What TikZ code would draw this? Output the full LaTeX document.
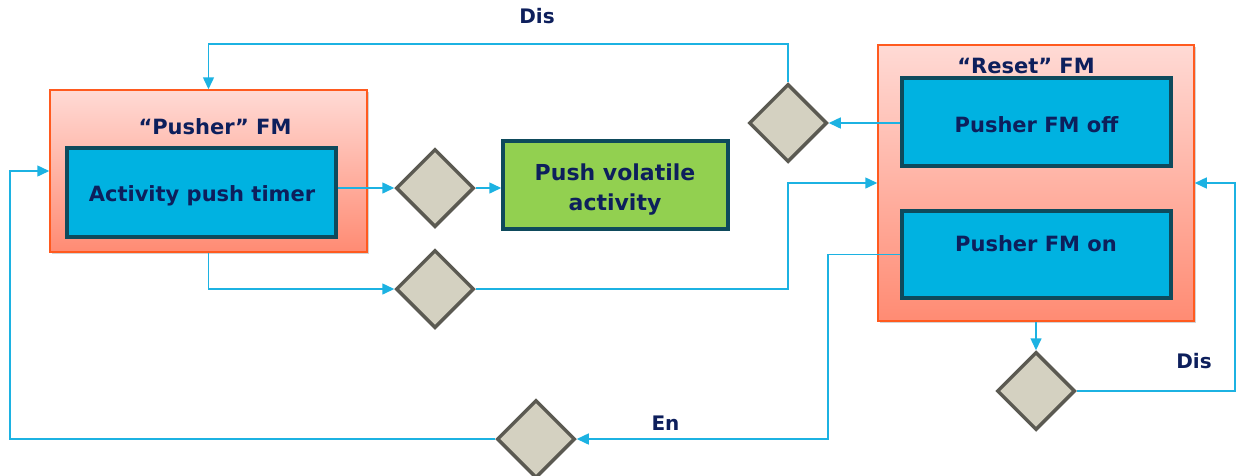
\documentclass[tikz,border=0pt]{standalone}
\usepackage{fontspec}
\setmainfont{DejaVu Sans}
\usetikzlibrary{shapes.geometric,arrows.meta,shadows}
\definecolor{navy}{HTML}{0D1F5C}
\definecolor{conncol}{HTML}{1CB2E2}
\definecolor{outerborder}{HTML}{FF5A1F}
\definecolor{outertop}{HTML}{FFDAD5}
\definecolor{outerbot}{HTML}{FF8B73}
\definecolor{innerfill}{HTML}{00B2E1}
\definecolor{innerborder}{HTML}{0E4A5C}
\definecolor{greenfill}{HTML}{92D050}
\definecolor{dfill}{HTML}{D4D1C1}
\definecolor{dborder}{HTML}{5B5A52}
\tikzset{
  outerbox/.style={draw=outerborder, line width=1.5pt, top color=outertop, bottom color=outerbot,
    inner sep=0pt, drop shadow={shadow xshift=2pt, shadow yshift=-2pt, opacity=0.35, fill=gray}},
  innerbox/.style={draw=innerborder, line width=3.5pt, fill=innerfill, inner sep=0pt,
    minimum width=269pt},
  greenbox/.style={draw=innerborder, line width=3.5pt, fill=greenfill, inner sep=0pt,
    minimum width=225pt, minimum height=88pt},
  dia/.style={diamond, draw=dborder, line width=3.5pt, fill=dfill, inner sep=0pt,
    minimum width=78pt, minimum height=78pt},
  lbl/.style={text=navy, font=\bfseries\fontsize{21}{30}\selectfont, inner sep=0pt, anchor=base},
  small/.style={text=navy, font=\bfseries\fontsize{20}{24}\selectfont, inner sep=0pt, anchor=base},
  conn/.style={draw=conncol, line width=1.5pt, -{Triangle[length=12pt,width=11pt]}}
}
\begin{document}
\begin{tikzpicture}[x=1pt,y=-1pt]
\useasboundingbox (0,0) rectangle (1238,475);
% outer boxes
\node[outerbox, minimum width=317pt, minimum height=162pt] (pusher) at (208.5,171) {};
\node[outerbox, minimum width=316pt, minimum height=276pt] (reset) at (1036,183) {};
% inner boxes
\node[innerbox, minimum height=89pt] (timer) at (201.5,192.5) {};
\node[innerbox, minimum height=88pt] (off) at (1036.5,122) {};
\node[innerbox, minimum height=87pt] (on) at (1036.5,254.5) {};
\node[greenbox] (green) at (615.5,185) {};
% titles and box texts
\node[lbl] (ptitle) at (215,134) {“Pusher” FM};
\node[lbl] (rtitle) at (1026,73) {“Reset” FM};
\node[lbl] (timertext) at (202,201) {Activity push timer};
\node[lbl] (offtext) at (1036.5,132) {Pusher FM off};
\node[lbl] (ontext) at (1036,251) {Pusher FM on};
\node[lbl, anchor=north, align=center, font=\bfseries\fontsize{22}{30}\selectfont] (greentext) at (615,163.5) {Push volatile\\activity};
% diamonds
\node[dia] (d1) at (435,188) {};
\node[dia] (d2) at (435,289) {};
\node[dia] (d3) at (788,123) {};
\node[dia] (d4) at (1036,391) {};
\node[dia] (d5) at (536,439) {};
% helper coordinates
\coordinate (topy) at (0,44);
\coordinate (enx) at (828,0);
\coordinate (lx) at (10,0);
\coordinate (rx) at (1235,0);
% connectors
\draw[conn] (d1.west -| timer.east) -- (d1.west);
\draw[conn] (d1.east) -- (d1.east -| green.west);
\draw[conn] (pusher.south) |- (d2.west);
\draw[conn] (d2.east) -- (d2.east -| d3) |- (reset.west);
\draw[conn] (off.west |- d3) -- (d3.east);
\draw[conn] (d3.north) |- (pusher.north |- topy) -- (pusher.north);
\draw[conn] (on.west) -- (on.west -| enx) |- (d5.east);
\draw[conn] (d5.west) -- (d5.west -| lx) |- (pusher.west);
\draw[conn] (reset.south) -- (d4.north);
\draw[conn] (d4.east) -- (d4.east -| rx) |- (reset.east);
% labels
\node[small] (dis1) at (537,23) {Dis};
\node[small] (dis2) at (1194,368) {Dis};
\node[small] (en) at (665.5,430) {En};
\end{tikzpicture}
\end{document}
